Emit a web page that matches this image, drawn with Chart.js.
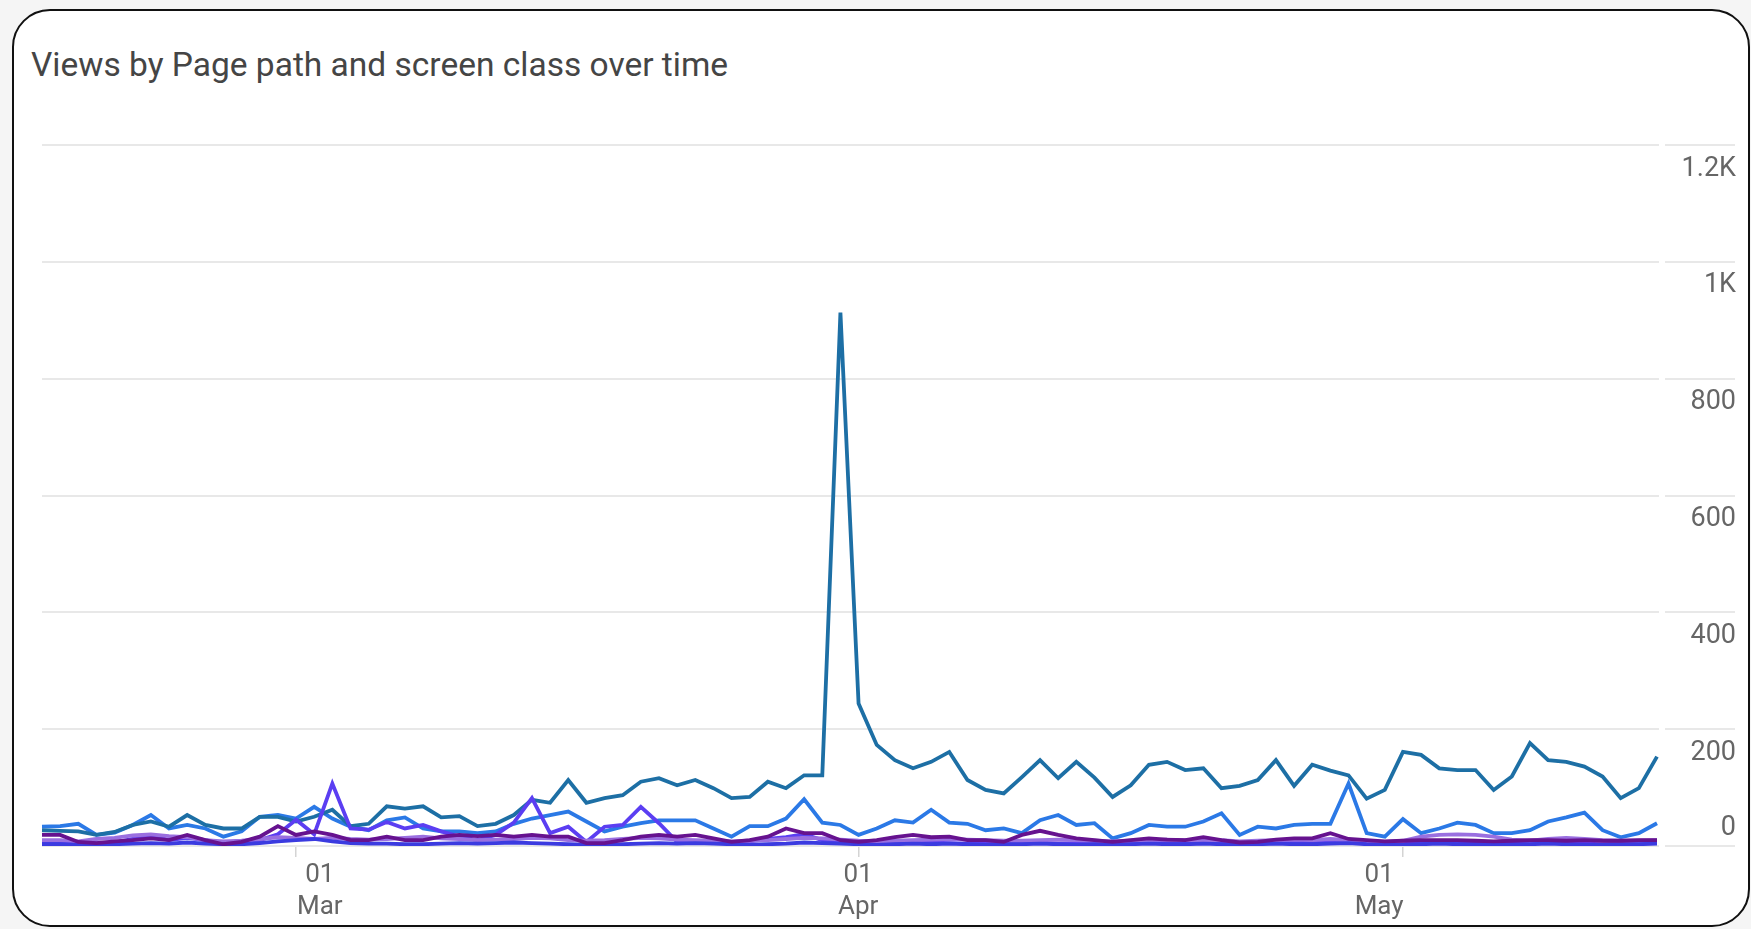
<!DOCTYPE html>
<html>
<head>
<meta charset="utf-8">
<script src="https://cdn.jsdelivr.net/npm/chart.js@4.4.1/dist/chart.umd.min.js"></script>
<style>
  html, body { margin: 0; padding: 0; width: 1751px; height: 929px; overflow: hidden; background: #f5f5f5; }
  .card { position: absolute; left: 12px; top: 9px; width: 1738px; height: 918px; box-sizing: border-box;
          border: 2.5px solid #111; border-radius: 38px; background: #fff; }
  .title { position: absolute; left: 31px; top: 44px; font-family: Roboto, "Noto Sans", sans-serif; font-size: 33.5px;
           line-height: 42px; color: #454545; white-space: nowrap; }
  #chart { position: absolute; left: 0; top: 0; }
</style>
</head>
<body>
<div class="card"></div>
<div class="title">Views by Page path and screen class over time</div>
<canvas id="chart" width="1751" height="929"></canvas>
<script>
// Daily dates, 15 Feb – 15 May
const dates = [
  '2025-02-15','2025-02-16','2025-02-17','2025-02-18','2025-02-19','2025-02-20','2025-02-21','2025-02-22','2025-02-23','2025-02-24','2025-02-25','2025-02-26','2025-02-27','2025-02-28',
  '2025-03-01','2025-03-02','2025-03-03','2025-03-04','2025-03-05','2025-03-06','2025-03-07','2025-03-08','2025-03-09','2025-03-10','2025-03-11','2025-03-12','2025-03-13','2025-03-14','2025-03-15','2025-03-16',
  '2025-03-17','2025-03-18','2025-03-19','2025-03-20','2025-03-21','2025-03-22','2025-03-23','2025-03-24','2025-03-25','2025-03-26','2025-03-27','2025-03-28','2025-03-29','2025-03-30','2025-03-31',
  '2025-04-01','2025-04-02','2025-04-03','2025-04-04','2025-04-05','2025-04-06','2025-04-07','2025-04-08','2025-04-09','2025-04-10','2025-04-11','2025-04-12','2025-04-13','2025-04-14','2025-04-15',
  '2025-04-16','2025-04-17','2025-04-18','2025-04-19','2025-04-20','2025-04-21','2025-04-22','2025-04-23','2025-04-24','2025-04-25','2025-04-26','2025-04-27','2025-04-28','2025-04-29','2025-04-30',
  '2025-05-01','2025-05-02','2025-05-03','2025-05-04','2025-05-05','2025-05-06','2025-05-07','2025-05-08','2025-05-09','2025-05-10','2025-05-11','2025-05-12','2025-05-13','2025-05-14','2025-05-15'
];
const monthNames = ['Jan','Feb','Mar','Apr','May','Jun','Jul','Aug','Sep','Oct','Nov','Dec'];

// Views per page path
const pathA = [27,26,25,19,24,36,42,33,53,36,30,30,50,50,42,50,62,34,38,
  68,64,68,49,51,34,38,53,79,74,113,74,82,87,110,116,104,
  113,99,82,84,110,99,121,121,913,244,173,147,133,144,161,113,96,90,
  118,147,116,144,117,84,104,139,144,130,133,99,103,113,147,103,139,
  129,121,81,96,161,156,133,130,130,96,119,176,147,144,136,119,82,99,153];
const pathB = [33,34,38,19,23,36,53,30,36,30,16,25,50,53,47,67,47,33,
  27,44,49,30,25,25,22,25,38,47,53,59,42,25,33,39,44,44,
  44,30,16,34,34,47,80,40,36,19,30,44,40,62,40,38,27,30,
  22,44,53,36,39,13,22,36,33,33,42,56,19,33,30,36,38,38,
  107,22,16,46,22,30,40,36,22,22,27,42,49,57,27,15,22,39];
const pathC = [8,8,6,5,6,12,18,10,14,10,5,6,10,20,45,20,107,30,28,
  41,30,36,25,16,10,19,40,82,22,33,7,33,36,67,39,7,
  8,6,5,8,12,15,20,10,8,5,4,6,8,6,5,4,5,6,
  5,6,4,5,6,4,5,6,5,4,5,6,5,4,5,6,5,6,
  8,4,3,4,5,6,5,4,5,4,5,6,5,4,3,4,5,6];
const pathD = [19,19,7,5,8,10,13,10,19,10,3,7,16,34,19,25,19,10,10,
  16,10,10,16,19,17,19,16,19,16,16,5,5,10,16,19,16,
  19,13,7,10,16,30,22,22,10,7,10,15,19,15,16,10,10,7,
  19,26,19,13,10,7,10,13,11,10,15,10,6,7,11,13,13,22,
  12,10,8,9,10,10,10,9,8,9,10,10,9,10,9,9,10,10];
const pathE = [3,3,2,2,3,4,5,4,6,4,3,3,5,8,10,12,8,5,4,
  4,3,3,4,5,4,5,6,5,4,3,2,2,3,4,5,4,
  5,4,3,2,3,4,6,5,4,3,2,3,4,3,4,3,2,3,
  3,4,3,2,3,2,3,4,3,3,4,3,2,3,4,3,3,4,
  5,3,2,2,3,4,3,3,2,3,3,4,3,2,2,3,3,4];
const pathF = [10,10,8,12,14,18,20,17,15,10,8,9,12,15,14,12,14,12,11,
  12,14,16,13,12,10,11,12,14,13,10,9,10,12,14,13,11,
  10,9,8,9,10,12,14,13,11,9,8,9,10,11,12,11,10,9,
  9,10,11,10,9,8,9,10,11,10,9,10,8,9,10,11,10,12,
  10,8,7,9,16,19,20,19,16,11,9,12,14,12,10,9,9,10];

// Y axis ticks
const yTickValues = [0, 200, 400, 600, 800, 1000, 1200];
const yTickLabels = ['0', '200', '400', '600', '800', '1K', '1.2K'];

// indices of the month starts (tick marks and date labels)
const monthStarts = dates.map((d, i) => (d.endsWith('-01') ? i : -1)).filter(i => i >= 0);
// the date-label band reaches two days past each end of the series
const labelBandPad = 2;

const series = [
  { label: 'Path D', data: pathD, color: '#66128f', order: 0 },
  { label: 'Path E', data: pathE, color: '#3b3be0', order: 1 },
  { label: 'Path F', data: pathF, color: '#9a6fe0', order: 2 },
  { label: 'Path C', data: pathC, color: '#5b3ef2', order: 3 },
  { label: 'Path A', data: pathA, color: '#1d6fa5', order: 4 },
  { label: 'Path B', data: pathB, color: '#2b79e6', order: 5 }
];

// small white gap between the plot's grid lines and the label-side grid segments
const axisGap = {
  id: 'axisGap',
  afterDraw(chart) {
    const { ctx, chartArea } = chart;
    ctx.save();
    ctx.fillStyle = '#ffffff';
    ctx.fillRect(chartArea.right + 2, chartArea.top - 4, 6, chartArea.bottom - chartArea.top + 8);
    ctx.restore();
  }
};

new Chart(document.getElementById('chart'), {
  type: 'line',
  data: {
    labels: dates,
    datasets: series.map(s => ({
      label: s.label,
      data: s.data,
      borderColor: s.color,
      backgroundColor: s.color,
      order: s.order,
      borderWidth: 3.8,
      pointRadius: 0,
      tension: 0,
      fill: false
    }))
  },
  options: {
    responsive: false,
    animation: false,
    layout: { padding: { left: 42, top: 145, right: 15, bottom: 0 } },
    plugins: { legend: { display: false }, tooltip: { enabled: false }, title: { display: false } },
    scales: {
      x: {
        type: 'category',
        offset: false,
        weight: 0,
        border: { display: false },
        grid: { drawOnChartArea: false, drawTicks: true, tickLength: 11, color: '#d4d4d4', lineWidth: 1.5 },
        afterBuildTicks(axis) {
          axis.ticks = monthStarts.map(i => ({ value: i }));
        },
        afterFit(axis) { axis.height = 12; },
        ticks: { display: false, autoSkip: false }
      },
      dateLabels: {
        type: 'linear',
        position: 'bottom',
        axis: 'x',
        weight: 1,
        min: -labelBandPad,
        max: dates.length - 1 + labelBandPad,
        border: { display: false },
        grid: { display: false },
        afterBuildTicks(axis) {
          axis.ticks = monthStarts.map(i => ({ value: i }));
        },
        afterFit(axis) { axis.height = 71; },
        ticks: {
          autoSkip: false,
          maxRotation: 0,
          padding: -6,
          color: '#666666',
          font: { family: 'Roboto', size: 26, lineHeight: 1.22 },
          callback(value) {
            const d = dates[value];
            return [d.slice(8, 10), monthNames[parseInt(d.slice(5, 7), 10) - 1]];
          }
        }
      },
      y: {
        position: 'right',
        min: 0,
        max: 1200,
        border: { display: false },
        grid: { color: '#e8e8e8', lineWidth: 2, drawTicks: true, tickLength: 78 },
        afterBuildTicks(axis) {
          axis.ticks = yTickValues.map(v => ({ value: v }));
        },
        afterFit(axis) { axis.width = 79; },
        ticks: {
          crossAlign: 'far',
          color: '#666666',
          font(ctx) {
            return { family: 'Roboto', size: 27, lineHeight: ctx.tick && ctx.tick.value === 0 ? 1.35 : 1.76 };
          },
          callback(value) {
            const text = yTickLabels[yTickValues.indexOf(value)];
            return value === 0 ? [text, ''] : ['', text];
          }
        }
      }
    }
  },
  plugins: [axisGap]
});
</script>
</body>
</html>
